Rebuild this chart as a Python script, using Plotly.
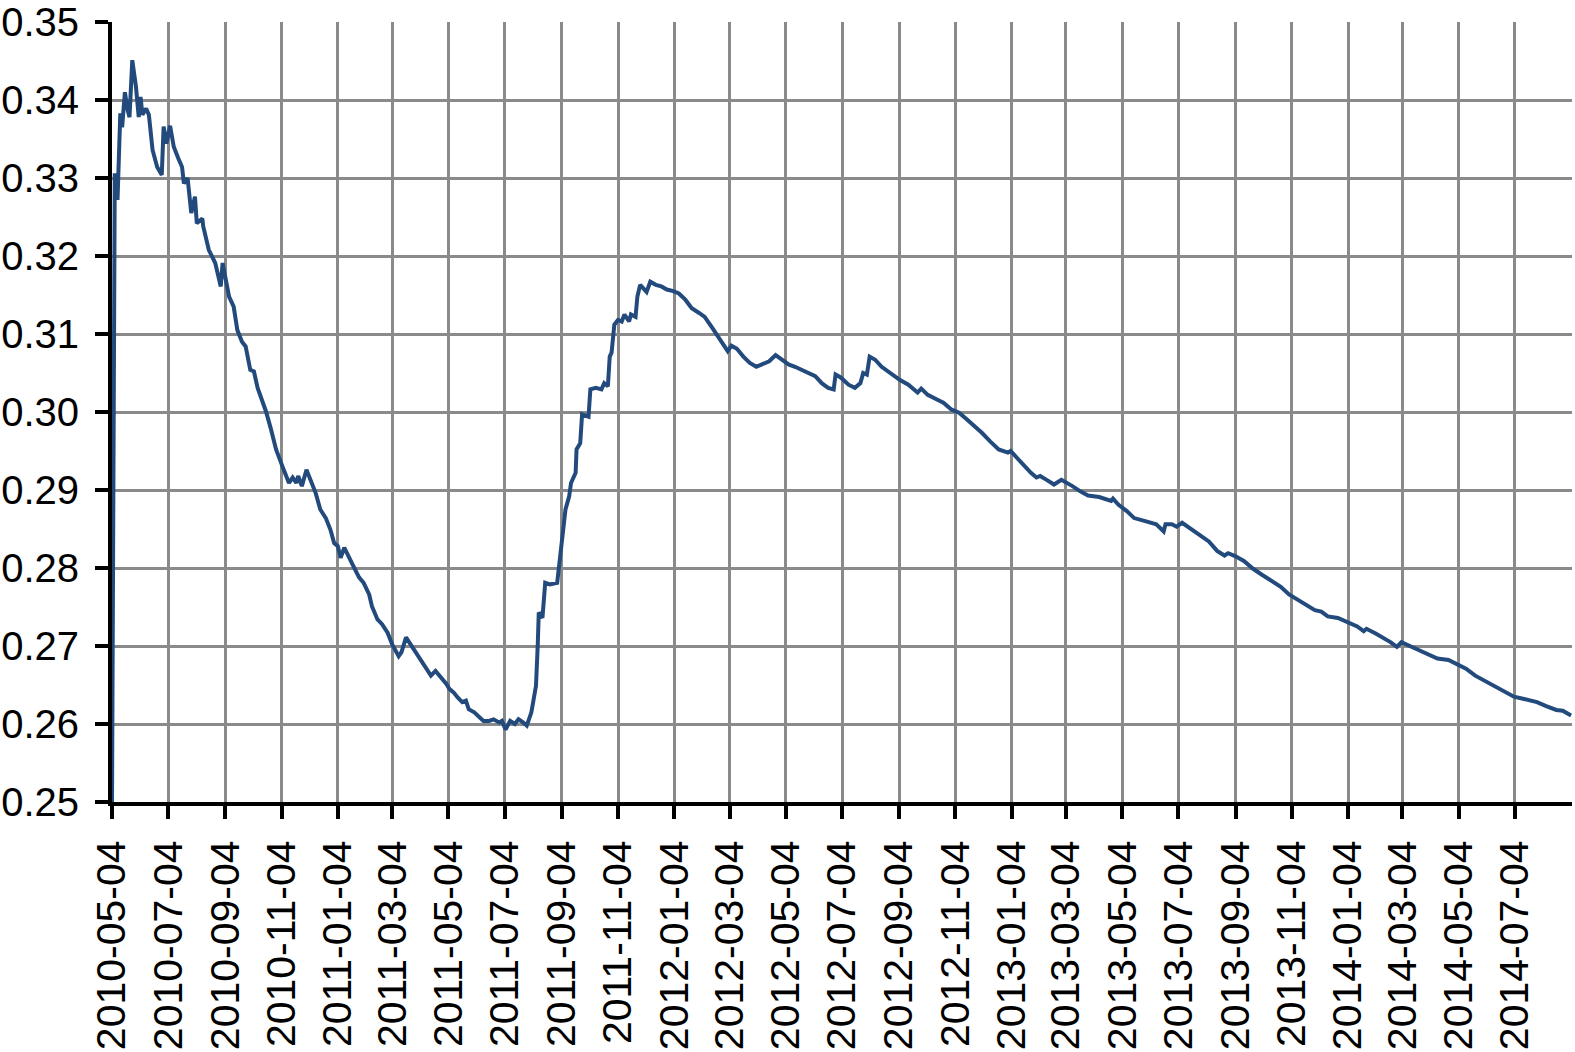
import plotly.graph_objects as go

# series
dates = [
    "2010-05-04", "2010-05-07", "2010-05-10", "2010-05-13", "2010-05-15", "2010-05-18", "2010-05-21",
    "2010-05-23", "2010-05-26", "2010-05-30", "2010-06-02", "2010-06-04", "2010-06-06", "2010-06-10",
    "2010-06-13", "2010-06-17", "2010-06-22", "2010-06-27", "2010-06-29", "2010-07-02", "2010-07-06",
    "2010-07-10", "2010-07-15", "2010-07-19", "2010-07-21", "2010-07-25", "2010-07-29", "2010-08-02",
    "2010-08-04", "2010-08-10", "2010-08-11", "2010-08-17", "2010-08-24", "2010-08-30", "2010-09-01",
    "2010-09-06", "2010-09-08", "2010-09-13", "2010-09-17", "2010-09-22", "2010-09-26", "2010-10-01",
    "2010-10-05", "2010-10-09", "2010-10-12", "2010-10-18", "2010-10-23", "2010-10-29", "2010-11-05",
    "2010-11-12", "2010-11-16", "2010-11-20", "2010-11-22", "2010-11-26", "2010-12-01", "2010-12-05",
    "2010-12-11", "2010-12-16", "2010-12-22", "2010-12-27", "2010-12-31", "2011-01-04", "2011-01-07",
    "2011-01-11", "2011-01-16", "2011-01-21", "2011-01-27", "2011-02-01", "2011-02-07", "2011-02-10",
    "2011-02-16", "2011-02-21", "2011-02-27", "2011-03-04", "2011-03-11", "2011-03-14", "2011-03-19",
    "2011-03-24", "2011-03-31", "2011-04-06", "2011-04-11", "2011-04-15", "2011-04-20", "2011-04-26",
    "2011-05-02", "2011-05-05", "2011-05-10", "2011-05-14", "2011-05-19", "2011-05-23", "2011-05-26",
    "2011-06-01", "2011-06-06", "2011-06-11", "2011-06-17", "2011-06-22", "2011-06-28", "2011-07-01",
    "2011-07-05", "2011-07-10", "2011-07-15", "2011-07-19", "2011-07-24", "2011-07-28", "2011-08-02",
    "2011-08-04", "2011-08-07", "2011-08-09", "2011-08-10", "2011-08-14", "2011-08-17", "2011-08-22",
    "2011-08-30", "2011-09-01", "2011-09-04", "2011-09-06", "2011-09-08", "2011-09-12", "2011-09-14",
    "2011-09-19", "2011-09-20", "2011-09-24", "2011-09-26", "2011-10-03", "2011-10-05", "2011-10-11",
    "2011-10-17", "2011-10-20", "2011-10-24", "2011-10-26", "2011-10-28", "2011-10-31", "2011-11-04",
    "2011-11-08", "2011-11-11", "2011-11-16", "2011-11-18", "2011-11-23", "2011-11-25", "2011-11-28",
    "2011-12-05", "2011-12-09", "2011-12-15", "2011-12-21", "2011-12-27", "2012-01-03", "2012-01-09",
    "2012-01-16", "2012-01-23", "2012-01-31", "2012-02-06", "2012-02-13", "2012-02-20", "2012-02-27",
    "2012-03-02", "2012-03-06", "2012-03-12", "2012-03-19", "2012-03-26", "2012-04-02", "2012-04-09",
    "2012-04-16", "2012-04-23", "2012-04-30", "2012-05-07", "2012-05-14", "2012-05-21", "2012-05-29",
    "2012-06-05", "2012-06-12", "2012-06-19", "2012-06-25", "2012-06-27", "2012-07-03", "2012-07-11",
    "2012-07-18", "2012-07-24", "2012-07-27", "2012-07-31", "2012-08-03", "2012-08-09", "2012-08-16",
    "2012-08-23", "2012-08-31", "2012-09-05", "2012-09-14", "2012-09-24", "2012-09-28", "2012-10-05",
    "2012-10-15", "2012-10-22", "2012-10-31", "2012-11-08", "2012-11-16", "2012-11-23", "2012-12-03",
    "2012-12-12", "2012-12-21", "2012-12-31", "2013-01-03", "2013-01-10", "2013-01-18", "2013-01-25",
    "2013-01-31", "2013-02-04", "2013-02-11", "2013-02-19", "2013-02-27", "2013-03-04", "2013-03-11",
    "2013-03-20", "2013-03-28", "2013-04-09", "2013-04-16", "2013-04-22", "2013-04-24", "2013-04-30",
    "2013-05-09", "2013-05-17", "2013-05-29", "2013-06-10", "2013-06-18", "2013-06-20", "2013-06-27",
    "2013-07-02", "2013-07-08", "2013-07-15", "2013-07-26", "2013-08-06", "2013-08-15", "2013-08-23",
    "2013-08-27", "2013-09-04", "2013-09-13", "2013-09-23", "2013-10-03", "2013-10-11", "2013-10-23",
    "2013-11-01", "2013-11-15", "2013-11-29", "2013-12-06", "2013-12-13", "2013-12-24", "2014-01-03",
    "2014-01-14", "2014-01-21", "2014-01-24", "2014-02-03", "2014-02-14", "2014-02-19", "2014-02-26",
    "2014-03-03", "2014-03-12", "2014-03-21", "2014-04-01", "2014-04-11", "2014-04-23", "2014-05-02",
    "2014-05-12", "2014-05-22", "2014-06-02", "2014-06-13", "2014-06-24", "2014-07-03", "2014-07-14",
    "2014-07-28", "2014-08-07", "2014-08-18", "2014-08-25", "2014-09-03",
]
values = [
    0.2495, 0.3306, 0.3272, 0.3383, 0.3365, 0.3410, 0.3387,
    0.3378, 0.3451, 0.3417, 0.3378, 0.3404, 0.3381, 0.3389,
    0.3381, 0.3336, 0.3314, 0.3304, 0.3366, 0.3344, 0.3367,
    0.3340, 0.3325, 0.3314, 0.3293, 0.3300, 0.3255, 0.3276,
    0.3242, 0.3248, 0.3238, 0.3208, 0.3191, 0.3161, 0.3191,
    0.3161, 0.3148, 0.3135, 0.3105, 0.3090, 0.3084, 0.3054,
    0.3052, 0.3031, 0.3022, 0.3001, 0.2980, 0.2952, 0.2930,
    0.2909, 0.2916, 0.2909, 0.2918, 0.2905, 0.2926, 0.2913,
    0.2896, 0.2875, 0.2864, 0.2849, 0.2832, 0.2828, 0.2813,
    0.2826, 0.2815, 0.2802, 0.2788, 0.2781, 0.2766, 0.2751,
    0.2734, 0.2728, 0.2717, 0.2702, 0.2687, 0.2692, 0.2711,
    0.2702, 0.2689, 0.2679, 0.2670, 0.2662, 0.2668, 0.2660,
    0.2651, 0.2645, 0.2640, 0.2634, 0.2628, 0.2630, 0.2619,
    0.2615, 0.2610, 0.2604, 0.2604, 0.2606, 0.2602, 0.2604,
    0.2593, 0.2604, 0.2600, 0.2606, 0.2602, 0.2598, 0.2615,
    0.2628, 0.2649, 0.2704, 0.2743, 0.2736, 0.2781, 0.2779,
    0.2781, 0.2802, 0.2837, 0.2854, 0.2875, 0.2892, 0.2909,
    0.2922, 0.2952, 0.2960, 0.2997, 0.2994, 0.3029, 0.3031,
    0.3029, 0.3037, 0.3033, 0.3071, 0.3076, 0.3112, 0.3118,
    0.3116, 0.3125, 0.3116, 0.3125, 0.3122, 0.3148, 0.3163,
    0.3154, 0.3167, 0.3163, 0.3161, 0.3157, 0.3155, 0.3152,
    0.3144, 0.3133, 0.3127, 0.3122, 0.3110, 0.3097, 0.3084,
    0.3078, 0.3085, 0.3081, 0.3071, 0.3063, 0.3058, 0.3062,
    0.3065, 0.3073, 0.3067, 0.3061, 0.3058, 0.3054, 0.3050,
    0.3046, 0.3037, 0.3031, 0.3029, 0.3048, 0.3044, 0.3035,
    0.3031, 0.3037, 0.3050, 0.3048, 0.3071, 0.3067, 0.3058,
    0.3052, 0.3046, 0.3041, 0.3035, 0.3025, 0.3030, 0.3022,
    0.3016, 0.3012, 0.3003, 0.2999, 0.2991, 0.2984, 0.2973,
    0.2962, 0.2952, 0.2948, 0.2950, 0.2941, 0.2930, 0.2922,
    0.2916, 0.2918, 0.2913, 0.2907, 0.2913, 0.2910, 0.2905,
    0.2898, 0.2893, 0.2891, 0.2889, 0.2886, 0.2889, 0.2881,
    0.2873, 0.2864, 0.2860, 0.2856, 0.2847, 0.2856, 0.2856,
    0.2853, 0.2858, 0.2852, 0.2843, 0.2834, 0.2822, 0.2816,
    0.2819, 0.2815, 0.2809, 0.2799, 0.2791, 0.2785, 0.2776,
    0.2766, 0.2756, 0.2746, 0.2744, 0.2738, 0.2736, 0.2731,
    0.2725, 0.2719, 0.2722, 0.2716, 0.2709, 0.2705, 0.2699,
    0.2705, 0.2700, 0.2695, 0.2689, 0.2684, 0.2682, 0.2677,
    0.2671, 0.2662, 0.2655, 0.2647, 0.2640, 0.2635, 0.2632,
    0.2628, 0.2623, 0.2618, 0.2617, 0.2611,
]

tick_dates = [
    "2010-05-04", "2010-07-04", "2010-09-04", "2010-11-04",
    "2011-01-04", "2011-03-04", "2011-05-04", "2011-07-04", "2011-09-04", "2011-11-04",
    "2012-01-04", "2012-03-04", "2012-05-04", "2012-07-04", "2012-09-04", "2012-11-04",
    "2013-01-04", "2013-03-04", "2013-05-04", "2013-07-04", "2013-09-04", "2013-11-04",
    "2014-01-04", "2014-03-04", "2014-05-04", "2014-07-04",
]
y_ticks = [0.25, 0.26, 0.27, 0.28, 0.29, 0.30, 0.31, 0.32, 0.33, 0.34, 0.35]

GRID = "#8a8a8a"
LINE = "#234a7c"

fig = go.Figure()
fig.add_trace(go.Scatter(
    x=dates, y=values, mode="lines",
    line=dict(color=LINE, width=4),
    showlegend=False, hoverinfo="skip"
))

fig.update_layout(
    width=1575, height=1052,
    margin=dict(l=112, r=3, t=22, b=250),
    plot_bgcolor="white", paper_bgcolor="white",
    font=dict(family="Liberation Sans, Arial, sans-serif", size=40, color="black"),
    xaxis=dict(
        type="date", range=["2010-05-04", "2014-09-04"],
        tickmode="array", tickvals=tick_dates, ticktext=tick_dates,
        tickangle=-90, tickfont=dict(size=41),
        showgrid=True, gridcolor=GRID, gridwidth=3,
        showline=True, linecolor="black", linewidth=4,
        ticks="outside", ticklen=13, tickwidth=4, tickcolor="black",
        ticklabelstandoff=5, ticklabeloverflow="allow",
        zeroline=False, automargin=False,
    ),
    yaxis=dict(
        range=[0.25, 0.35],
        tickmode="array", tickvals=y_ticks, ticktext=[f"{v:.2f}" for v in y_ticks],
        tickfont=dict(size=40),
        showgrid=True, gridcolor=GRID, gridwidth=3,
        showline=True, linecolor="black", linewidth=4,
        ticks="outside", ticklen=13, tickwidth=4, tickcolor="black",
        ticklabelstandoff=8, ticklabeloverflow="allow",
        zeroline=False, automargin=False,
    ),
)

# drop the default 8px body margin so the figure sits at the page origin
fig.write_html(
    "out.html",
    config={"displayModeBar": False},
    post_script="document.body.style.margin='0';",
)
